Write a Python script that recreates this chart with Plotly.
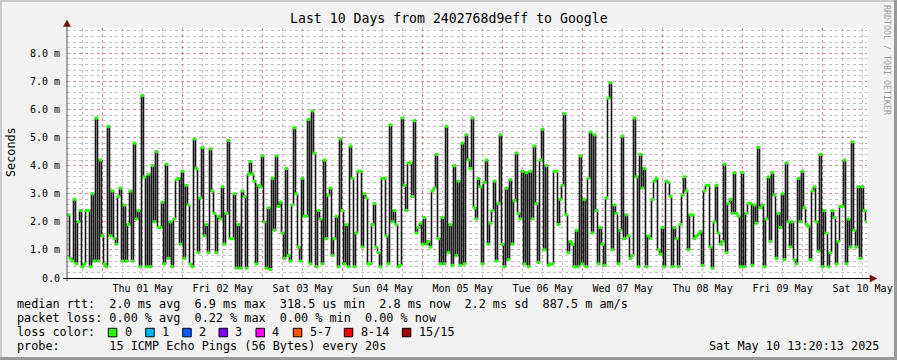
import pandas as pd
import plotly.graph_objects as go

# ---------------- data ----------------
START = "2025-04-30 13:20"
END = "2025-05-10 13:20"
FIRST_SAMPLE = "2025-04-30 13:29"
STEP_MIN = 36

# median RTT (milliseconds), in time order
rtt_apr30_may02 = [2.25,0.7,0.6,2.8,0.5,2.0,2.4,0.4,0.5,2.4,
                   2.4,0.4,3.0,0.6,5.7,0.6,4.2,1.5,0.5,0.4,
                   5.4,1.5,3.1,1.4,1.2,2.9,3.2,0.6,2.6,0.6,
                   1.9,3.1,0.6,4.8,2.1,2.4,0.4,6.5,3.6,0.4,
                   3.7,0.4,4.0,2.0,4.5,1.8,1.8,2.7,0.5,4.05,
                   0.7,2.0,0.4,2.1,3.5,3.55,1.2,3.8,0.7,3.3,
                   2.6,0.5,0.4,4.95,3.9,0.9,2.85,4.65,1.5,1.9,
                   0.9,4.6,3.1,2.3,0.9,2.2,2.1,3.25,1.2,2.3,
                   4.9,1.4]
rtt_may02_may04 = [1.4,3.0,0.35,1.9,0.35,3.1,2.9,0.35,3.7,4.15,
                   3.7,3.45,0.5,3.3,3.25,4.35,2.0,0.35,2.5,0.3,
                   3.55,1.7,4.35,2.55,2.7,1.6,0.7,3.9,0.8,0.6,
                   2.6,5.35,3.0,1.1,0.6,3.55,2.2,2.2,5.65,0.5,
                   5.95,4.45,0.4,2.4,2.1,0.5,4.2,1.4,2.95,3.2,
                   0.8,1.4,2.2,0.4,4.95,2.4,0.5,1.9,0.4,4.7,
                   3.55,0.4,1.6,3.8,3.8,1.1,3.0,2.85,0.5,0.5,
                   1.9,2.65,1.1,0.9,0.4,3.55,3.55,1.5,0.5,5.45,
                   2.0]
rtt_may04_may06 = [2.4,1.9,0.4,0.45,5.7,3.3,2.4,4.1,4.1,2.9,
                   5.6,1.6,1.8,1.95,1.2,2.15,1.2,1.3,1.1,3.1,
                   3.2,4.4,1.4,0.5,2.15,0.5,5.4,0.9,1.9,0.45,
                   4.0,0.8,3.45,0.45,4.8,0.5,5.1,4.2,3.9,5.7,
                   2.5,2.1,3.55,3.25,0.5,3.4,4.2,1.2,1.95,2.4,
                   3.45,0.6,2.65,5.1,1.2,0.4,3.2,0.65,3.5,1.2,
                   2.75,4.45,2.3,2.1,3.8,0.5,3.75,0.4,3.8,2.1,
                   4.7,2.65,0.55,4.2,5.3,1.0,4.0,0.45,0.5,0.5,
                   3.8]
rtt_may06_may08 = [3.8,1.9,2.8,3.3,5.85,2.25,0.9,1.3,1.2,0.4,
                   1.7,0.4,4.35,0.5,2.8,0.4,3.55,5.2,1.6,5.1,
                   2.4,0.5,1.8,1.2,0.45,2.85,6.4,6.95,1.0,2.6,
                   2.3,0.5,1.7,5.05,1.4,2.25,1.5,0.7,0.8,5.7,
                   3.6,0.4,4.4,3.2,3.9,0.4,1.5,1.4,2.8,3.45,
                   3.55,1.0,0.85,1.8,0.4,3.45,3.4,2.9,0.4,1.8,
                   1.4,0.4,1.9,2.95,3.6,3.1,1.0,2.25,2.25,1.4,
                   1.5,1.55,1.65,0.45,3.1,3.3,3.3,1.1,0.35,2.0,
                   3.3]
rtt_may08_may10 = [1.6,1.2,1.3,4.05,0.9,2.65,2.8,2.3,3.75,2.3,
                   2.2,0.4,3.75,0.4,2.3,2.65,2.65,0.45,2.6,1.95,
                   4.65,2.5,2.6,0.4,2.1,3.6,1.3,3.75,2.95,0.7,
                   2.3,1.8,3.0,0.65,4.1,2.0,1.1,2.0,0.65,0.5,
                   3.55,2.0,3.8,2.5,1.9,1.85,0.65,3.1,3.25,2.0,
                   0.95,4.4,0.4,2.4,1.6,0.4,0.9,2.4,2.15,0.5,
                   1.3,2.55,2.55,4.2,0.5,2.1,1.1,4.85,1.7,1.1,
                   3.25,0.7,3.25,2.4,2.0]

day_dates = ["2025-05-01","2025-05-02","2025-05-03","2025-05-04","2025-05-05",
             "2025-05-06","2025-05-07","2025-05-08","2025-05-09","2025-05-10"]
day_labels = ["Thu 01 May","Fri 02 May","Sat 03 May","Sun 04 May","Mon 05 May",
              "Tue 06 May","Wed 07 May","Thu 08 May","Fri 09 May","Sat 10 May"]
y_ticks = [0, 1, 2, 3, 4, 5, 6, 7, 8]
y_tick_labels = ["0.0", "1.0 m", "2.0 m", "3.0 m", "4.0 m", "5.0 m", "6.0 m", "7.0 m", "8.0 m"]
y_minor_ticks = [round(0.2 * i, 1) for i in range(45)]

loss_labels = ["0", "1", "2", "3", "4", "5-7", "8-14", "15/15"]
loss_colors = ["#26ff00", "#00b8ff", "#0059ff", "#7e00ff", "#ff00ff", "#ff5500", "#ff0000", "#a10000"]

title_text = "Last 10 Days from 2402768d9eff to Google"
rtt_row = "median rtt:  2.0 ms avg  6.9 ms max  318.5 us min  2.8 ms now  2.2 ms sd  887.5 m am/s"
loss_row = "packet loss: 0.00 % avg  0.22 % max  0.00 % min  0.00 % now"
color_row_label = "loss color:"
probe_row = "probe:       15 ICMP Echo Pings (56 Bytes) every 20s"
stamp = "Sat May 10 13:20:13 2025"
watermark = "RRDTOOL / TOBI OETIKER"

# ---------------- layout geometry ----------------
W, H = 897, 360
L, R, T, B = 67, 30, 28, 82
PW, PH = W - L - R, H - T - B
MONO = "DejaVu Sans Mono"
GRID_MINOR = "rgba(140,140,140,0.55)"
GRID_MAJOR = "rgba(225,100,100,0.55)"


def px(x):
    return (x - L) / PW


def py(y):
    return (H - B - y) / PH


def nb(s):
    return s.replace(" ", "\u00a0")


rtt = rtt_apr30_may02 + rtt_may02_may04 + rtt_may04_may06 + rtt_may06_may08 + rtt_may08_may10
times = pd.date_range(FIRST_SAMPLE, periods=len(rtt), freq=f"{STEP_MIN}min")
mid_times = times + pd.Timedelta(minutes=STEP_MIN / 2)
midnights = [pd.Timestamp(d) for d in day_dates]
six_hours = pd.date_range("2025-04-30 18:00", END, freq="6h")
label_map = {pd.Timestamp(d) + pd.Timedelta(hours=12): lab for d, lab in zip(day_dates, day_labels)}
six_text = [label_map.get(t, "") for t in six_hours]

fig = go.Figure()
fig.add_trace(go.Scatter(x=times, y=rtt, mode="lines", line=dict(shape="hv", color="#141414", width=1.6),
                         hoverinfo="skip", showlegend=False))
fig.add_trace(go.Scatter(x=mid_times, y=rtt, mode="markers",
                         marker=dict(symbol="square", size=3, color=loss_colors[0], line=dict(width=0)),
                         hoverinfo="skip", showlegend=False))
# helper trace so the overlaid grid axes are rendered
fig.add_trace(go.Scatter(x=[START, END], y=[-5, -5], xaxis="x2", yaxis="y2", mode="lines",
                         line=dict(width=0), hoverinfo="skip", showlegend=False))

axis_common = dict(zeroline=False, showline=False, ticks="", automargin=False)
fig.update_layout(
    template="none",
    width=W, height=H,
    margin=dict(l=L, r=R, t=T, b=B, autoexpand=False),
    paper_bgcolor="#F2F2F2", plot_bgcolor="#FFFFFF",
    showlegend=False,
    font=dict(family=MONO, size=10, color="#000000"),
    xaxis=dict(type="date", range=[START, END], tickmode="array", tickvals=six_hours, ticktext=six_text,
               showgrid=True, gridcolor=GRID_MINOR, griddash="dot", gridwidth=1, ticklabelstandoff=3,
               tickfont=dict(family=MONO, size=10, color="#000000"), **axis_common),
    xaxis2=dict(type="date", range=[START, END], overlaying="x", anchor="y", side="bottom",
                tickmode="array", tickvals=midnights, showticklabels=False,
                showgrid=True, gridcolor=GRID_MAJOR, griddash="dot", gridwidth=1, **axis_common),
    yaxis=dict(range=[0, 8.9], tickmode="array", tickvals=y_minor_ticks, showticklabels=False,
               showgrid=True, gridcolor=GRID_MINOR, griddash="dot", gridwidth=1, **axis_common),
    yaxis2=dict(range=[0, 8.9], overlaying="y", anchor="x", side="left", tickmode="array",
                tickvals=y_ticks, ticktext=y_tick_labels, ticklabelstandoff=6,
                showgrid=True, gridcolor=GRID_MAJOR, griddash="dot", gridwidth=1,
                tickfont=dict(family=MONO, size=10, color="#000000"), **axis_common),
)

shapes = []
# frame shading
shapes.append(dict(type="rect", xref="paper", yref="paper", x0=px(0), x1=px(W), y0=py(0), y1=py(2),
                   fillcolor="#CBCBCB", line=dict(width=0), layer="above"))
shapes.append(dict(type="rect", xref="paper", yref="paper", x0=px(0), x1=px(2), y0=py(0), y1=py(H),
                   fillcolor="#CBCBCB", line=dict(width=0), layer="above"))
shapes.append(dict(type="rect", xref="paper", yref="paper", x0=px(W - 3), x1=px(W), y0=py(0), y1=py(H),
                   fillcolor="#999999", line=dict(width=0), layer="above"))
shapes.append(dict(type="rect", xref="paper", yref="paper", x0=px(0), x1=px(W), y0=py(H - 3), y1=py(H),
                   fillcolor="#999999", line=dict(width=0), layer="above"))
# axes lines
shapes.append(dict(type="line", xref="paper", yref="paper", x0=px(67), x1=px(67), y0=py(281), y1=py(24),
                   line=dict(color="#555555", width=1), layer="above"))
shapes.append(dict(type="line", xref="paper", yref="paper", x0=px(63), x1=px(871), y0=py(278.5), y1=py(278.5),
                   line=dict(color="#000000", width=1.2), layer="above"))
# arrows
shapes.append(dict(type="path", xref="paper", yref="paper",
                   path=f"M {px(67)},{py(20)} L {px(63.5)},{py(26.5)} L {px(70.5)},{py(26.5)} Z",
                   fillcolor="#7f1010", line=dict(color="#7f1010", width=0.5), layer="above"))
shapes.append(dict(type="path", xref="paper", yref="paper",
                   path=f"M {px(877)},{py(278.5)} L {px(870)},{py(275)} L {px(870)},{py(282)} Z",
                   fillcolor="#7f1010", line=dict(color="#7f1010", width=0.5), layer="above"))

# loss colour boxes
box_left = [108.3, 145.7, 182.7, 219.0, 256.0, 293.3, 344.3, 402.3]
for bx, col in zip(box_left, loss_colors):
    shapes.append(dict(type="rect", xref="paper", yref="paper", x0=px(bx), x1=px(bx + 8.5),
                       y0=py(328.3), y1=py(336.8), fillcolor=col, line=dict(color="#000000", width=1),
                       layer="above"))

ann = []


def text(x, y, s, size=11.8, xanchor="left", color="#000000", angle=0):
    ann.append(dict(xref="paper", yref="paper", x=px(x), y=py(y), text=nb(s), showarrow=False,
                    xanchor=xanchor, yanchor="middle", textangle=angle,
                    font=dict(family=MONO, size=size, color=color)))


text(448.5, 19, title_text, size=13.2, xanchor="center")
text(11, 152, "Seconds", size=11.8, xanchor="center", angle=-90)
text(887, 60, watermark, size=8.3, xanchor="center", color="#a0a0a0", angle=90)
text(15, 304, rtt_row)
text(15, 318, loss_row)
text(15, 332, color_row_label)
for bx, lab in zip(box_left, loss_labels):
    text(bx + 14.3, 332, lab)
text(15, 346, probe_row)
text(881, 346, stamp, xanchor="right")

fig.update_layout(shapes=shapes, annotations=ann)
fig.write_html("out.html", config={"displayModeBar": False},
               post_script="document.body.style.margin='0';document.body.style.padding='0';"
                           "document.body.style.overflow='hidden';")
